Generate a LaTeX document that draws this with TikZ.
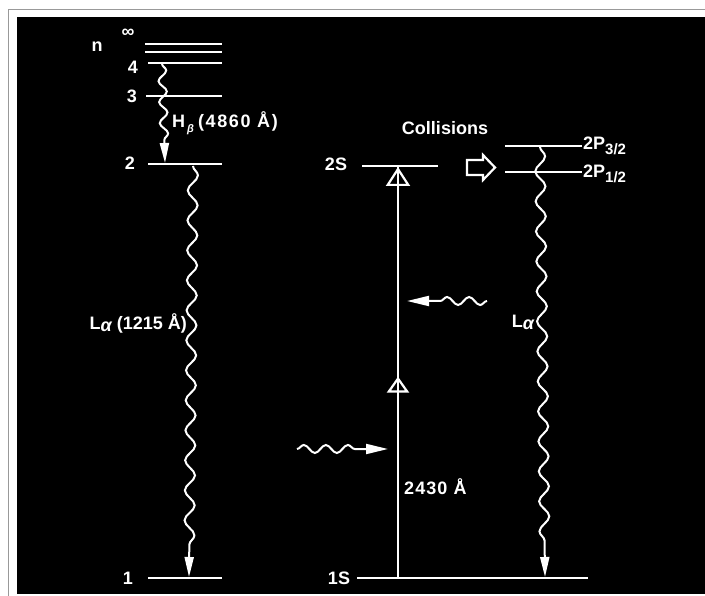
\documentclass[tikz,border=0pt]{standalone}
\usepackage{fontspec}
\setmainfont{Liberation Sans}
\usetikzlibrary{arrows.meta,decorations.pathmorphing,decorations.markings}
\tikzset{
  level/.style={draw=white, line width=2.2pt},
  lab/.style={text=white, font=\fontsize{18}{20}\selectfont\bfseries, inner sep=0pt},
  decay/.style={draw=white, line width=2pt, decorate,
    decoration={snake, amplitude=5pt, segment length=30pt, post length=22pt},
    -{Triangle[length=20pt,width=9pt]}},
  photon/.style={draw=white, line width=2pt, decorate,
    decoration={snake, amplitude=4pt, segment length=22pt, post length=24pt},
    -{Triangle[length=22pt,width=10pt]}},
  absorb/.style={draw=white, line width=2.2pt, postaction={decorate},
    decoration={markings,
      mark=at position 0.49 with {\arrow{Triangle[open,length=16pt,width=22pt]}},
      mark=at position 1 with {\arrow{Triangle[open,length=19pt,width=24pt]}}}}
}

\begin{document}
\begin{tikzpicture}[x=1pt,y=-1pt]
\useasboundingbox (0,0) rectangle (705,596);

% ---------------- Background and frame ----------------
\fill[white] (0,0) rectangle (705,596);
\draw[black!40, line width=0.8pt] (8,596) -- (8,9) -- (705,9);
\fill[black] (17,17) rectangle (705,594);

% ---------------- Hydrogen levels (left) ----------------
\node[lab] (nlab) at (97,47) {n};
\node[lab] (inflab) at (128,33) {∞};
\draw[level] (145,44) -- (222,44);
\draw[level] (145,52) -- (222,52);
\draw[level] (148,63) coordinate (l4) -- (222,63);
\node[lab] at (133,67) {4};
\draw[level] (146,96) coordinate (l3) -- (222,96);
\node[lab] at (132,96) {3};
\draw[level] (148,164) coordinate (l2) -- (222,164);
\node[lab] at (130,163) {2};
\draw[level] (148,578) coordinate (l1) -- (222,578);
\node[lab] at (128,578) {1};

\coordinate (hbtop) at (162,64);
\coordinate (hbbot) at (165,163);
\draw[decay, decoration={amplitude=4pt, segment length=21pt, post length=18pt}] (hbtop) -- (hbbot);
\node[lab, anchor=west] (hblab) at (172,123)
  {\addfontfeatures{LetterSpace=9}H\hspace{2pt}\raisebox{-5pt}{\fontsize{11}{11}\selectfont\itshape β}\hspace{4pt}(4860 Å)};

\coordinate (latop) at (193,166);
\coordinate (labot) at (189,577);
\draw[decay] (latop) -- (labot);
\node[lab, anchor=east] (lalab) at (187,323) {L\raisebox{-2pt}{\itshape α} (1215 Å)};

% ---------------- Two-photon excitation (middle) ----------------
\draw[level] (362,166) coordinate (s2) -- (438,166);
\node[lab] at (336,164) {2S};
\draw[level] (357,578) coordinate (s1) -- (588,578);
\node[lab] at (339,578) {1S};

\coordinate (exbot) at (398,578);
\coordinate (extop) at (398,167);
\draw[absorb] (exbot) -- (extop);
\node[lab, anchor=west] (wlab) at (404,487) {\addfontfeatures{LetterSpace=6}2430 Å};

\coordinate (ph1a) at (297,449);
\coordinate (ph1b) at (388,449);
\draw[photon] (ph1a) -- (ph1b);
\coordinate (ph2a) at (487,301);
\coordinate (ph2b) at (407,301);
\draw[photon] (ph2a) -- (ph2b);

% ---------------- Collisions and 2P levels (right) ----------------
\node[lab] (colllab) at (445,128) {Collisions};
\draw[white, fill=black, line width=2.2pt, line join=miter]
  (467,160) -- (483,160) -- (483,155) -- (495,167.5) -- (483,180) -- (483,175) -- (467,175) -- cycle;

\draw[level] (505,146) coordinate (p32) -- (582,146);
\node[lab, anchor=west] at (583,146) {2P\raisebox{-5pt}{\fontsize{15}{15}\selectfont 3/2}};
\draw[level] (505,172) coordinate (p12) -- (582,172);
\node[lab, anchor=west] at (583,174) {2P\raisebox{-5pt}{\fontsize{15}{15}\selectfont 1/2}};

\coordinate (rltop) at (540,147);
\coordinate (rlbot) at (545,577);
\draw[decay] (rltop) -- (rlbot);
\node[lab] (rllab) at (523,322) {L\raisebox{-2pt}{\itshape α}};

\end{tikzpicture}
\end{document}
